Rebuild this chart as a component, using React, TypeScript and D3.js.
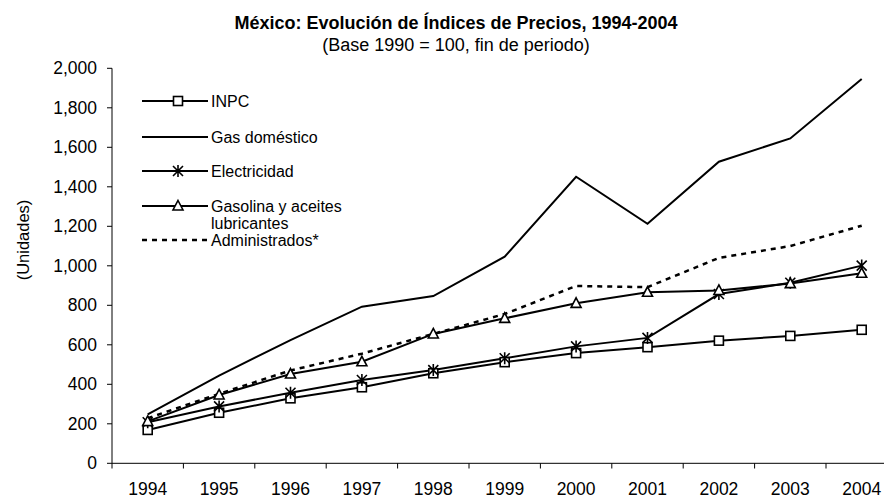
import React from "react";
import * as d3 from "d3";

const years = ["1994","1995","1996","1997","1998","1999","2000","2001","2002","2003","2004"];
const inpc = [169, 256, 329, 385, 456, 512, 558, 588, 621, 645, 676];
const gasDomestico = [248, 444, 624, 793, 847, 1046, 1451, 1213, 1527, 1645, 1946];
const electricidad = [208, 288, 357, 422, 472, 532, 592, 635, 857, 914, 1001];
const gasolina = [212, 346, 452, 514, 655, 734, 810, 866, 875, 910, 962];
const administrados = [228, 352, 470, 555, 655, 756, 898, 892, 1040, 1100, 1203];
const yTicks = [0, 200, 400, 600, 800, 1000, 1200, 1400, 1600, 1800, 2000];

const seriesNames = ["INPC", "Gas doméstico", "Electricidad", "Gasolina y aceites|lubricantes", "Administrados*"];

const W = 884, H = 498;
const FONT = "'Liberation Sans', Arial, sans-serif";

export default function App() {
  const x = d3.scaleBand<string>().domain(years).range([112, 112 + 11 * 71.4]);
  const y = d3.scaleLinear().domain([0, 2000]).range([463.3, 68.3]);
  const cx = (i: number) => (x(years[i]) as number) + x.bandwidth() / 2;
  const line = d3.line<number>().x((_, i) => cx(i)).y((d) => y(d));

  const square = (px: number, py: number, k: string) => (
    <rect key={k} x={px - 4.5} y={py - 4.5} width={9} height={9} fill="#fff" stroke="#000" strokeWidth={1.6} />
  );
  const triangle = (px: number, py: number, k: string) => (
    <path key={k} d={`M${px},${py - 5.5}L${px + 5},${py + 4}L${px - 5},${py + 4}Z`} fill="#fff" stroke="#000" strokeWidth={1.6} />
  );
  const star = (px: number, py: number, k: string) => (
    <path key={k} d={`M${px - 5},${py - 5}L${px + 5},${py + 5}M${px + 5},${py - 5}L${px - 5},${py + 5}M${px},${py - 6}L${px},${py + 6}`} stroke="#000" strokeWidth={1.6} fill="none" />
  );

  const legendY = [101, 137, 171, 206, 240];
  const legX1 = 142, legX2 = 208, legMid = 178, legText = 211;

  return (
    <svg width={W} height={H} style={{ position: "absolute", left: 0, top: 0, background: "#fff" }} fontFamily={FONT}>
      <rect x={0} y={0} width={W} height={H} fill="#fff" />
      <text x={456} y={28.5} textAnchor="middle" fontSize={18} fontWeight="bold">México: Evolución de Índices de Precios, 1994-2004</text>
      <text x={456} y={50.5} textAnchor="middle" fontSize={18}>(Base 1990 = 100, fin de periodo)</text>

      {/* axes */}
      <line x1={112} x2={112} y1={68.3} y2={463.3} stroke="#000" />
      <line x1={112} x2={W} y1={463.3} y2={463.3} stroke="#000" />
      {yTicks.map((t) => (
        <g key={t}>
          <line x1={107} x2={112} y1={y(t)} y2={y(t)} stroke="#000" />
          <text x={97} y={y(t) + 6} textAnchor="end" fontSize={17.5}>{d3.format(",")(t)}</text>
        </g>
      ))}
      {years.map((yr, i) => (
        <g key={yr}>
          <line x1={x(yr) as number} x2={x(yr) as number} y1={463.3} y2={468.5} stroke="#000" />
          <text x={cx(i)} y={495} textAnchor="middle" fontSize={17.5}>{yr}</text>
        </g>
      ))}
      <text transform="translate(29,240) rotate(-90)" textAnchor="middle" fontSize={16.5}>(Unidades)</text>

      {/* lines */}
      <path d={line(inpc) as string} fill="none" stroke="#000" strokeWidth={2} />
      <path d={line(gasDomestico) as string} fill="none" stroke="#000" strokeWidth={2} />
      <path d={line(electricidad) as string} fill="none" stroke="#000" strokeWidth={2} />
      <path d={line(gasolina) as string} fill="none" stroke="#000" strokeWidth={2} />
      <path d={line(administrados) as string} fill="none" stroke="#000" strokeWidth={2.5} strokeDasharray="5,5" />

      {/* markers */}
      {inpc.map((v, i) => square(cx(i), y(v), "s" + i))}
      {electricidad.map((v, i) => star(cx(i), y(v), "e" + i))}
      {gasolina.map((v, i) => triangle(cx(i), y(v), "t" + i))}

      {/* legend */}
      {seriesNames.map((name, i) => {
        const ly = legendY[i];
        const parts = name.split("|");
        return (
          <g key={name}>
            <line x1={legX1} x2={legX2} y1={ly} y2={ly} stroke="#000" strokeWidth={i === 4 ? 2.5 : 2} strokeDasharray={i === 4 ? "5,5" : undefined} />
            {i === 0 && square(legMid, ly, "ls")}
            {i === 2 && star(legMid, ly, "le")}
            {i === 3 && triangle(legMid, ly, "lt")}
            {parts.map((p, j) => (
              <text key={j} x={legText} y={ly + 5.5 + j * 17} fontSize={16}>{p}</text>
            ))}
          </g>
        );
      })}
    </svg>
  );
}
